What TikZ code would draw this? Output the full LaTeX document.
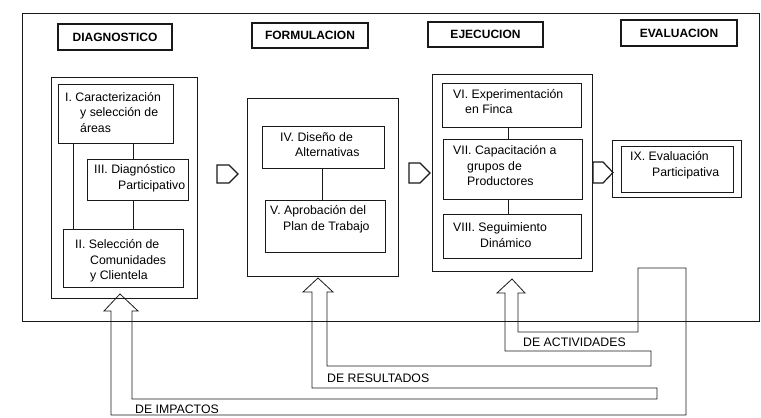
\documentclass[tikz,border=0pt]{standalone}
\usepackage{fontspec}
\setmainfont{Liberation Sans}
\begin{document}
\begin{tikzpicture}[x=1pt,y=-1pt,
  every path/.style={line join=miter},
  frame/.style={draw=black!90, line width=0.8pt},
  box/.style={draw=black!90, line width=0.8pt, inner sep=0pt, anchor=north west},
  title/.style={draw=black!90, line width=1.3pt, inner sep=0pt,
    font=\bfseries\fontsize{12}{14}\selectfont},
  txt/.style={align=left, inner sep=0pt, anchor=west,
    font=\fontsize{12.3}{15.5}\selectfont},
  lbl/.style={inner sep=0pt, anchor=west, font=\fontsize{12.3}{14}\selectfont},
  link/.style={draw=black!90, line width=0.8pt},
  blockarrow/.style={draw=black!90, line width=1.2pt, line join=miter},
  feedback/.style={draw=black!90, line width=0.8pt, line join=miter}
]
\useasboundingbox (0,0) rectangle (761,418);

% outer frame
\draw[frame] (22,13) rectangle (759,321);

% phase titles
\node[title, minimum width=114pt, minimum height=26pt] (t1) at (115,37) {DIAGNOSTICO};
\node[title, minimum width=116pt, minimum height=25pt] (t2) at (310,35.5) {FORMULACION};
\node[title, minimum width=115pt, minimum height=25pt] (t3) at (485.5,34.5) {EJECUCION};
\node[title, minimum width=116pt, minimum height=26pt] (t4) at (679,33) {EVALUACION};

% group boxes
\node[box, minimum width=146pt, minimum height=221pt] (g1) at (51,77) {};
\node[box, minimum width=151pt, minimum height=178pt] (g2) at (247,98) {};
\node[box, minimum width=160pt, minimum height=197pt] (g3) at (432,74) {};
\node[box, minimum width=129pt, minimum height=57pt] (g4) at (612,140) {};

% step boxes
\node[box, minimum width=115pt, minimum height=59pt] (b1) at (58,84) {};
\node[box, minimum width=101pt, minimum height=41pt] (b3) at (87,159) {};
\node[box, minimum width=120pt, minimum height=58pt] (b2) at (63,229) {};
\node[box, minimum width=122pt, minimum height=42pt] (b4) at (262,126) {};
\node[box, minimum width=120pt, minimum height=52pt] (b5) at (265,200) {};
\node[box, minimum width=139pt, minimum height=44pt] (b6) at (442,83) {};
\node[box, minimum width=139pt, minimum height=60pt] (b7) at (443,139) {};
\node[box, minimum width=138pt, minimum height=44pt] (b8) at (443,214) {};
\node[box, minimum width=112pt, minimum height=46pt] (b9) at (621,146) {};

% texts
\node[txt] (x1) at (65,112.5) {I. Caracterización\\\hspace*{15pt}y selección de\\\hspace*{15pt}áreas};
\node[txt] (x3) at (94,178) {III. Diagnóstico\\\hspace*{24pt}Participativo};
\node[txt] (x2) at (75,261) {II. Selección de\\\hspace*{15pt}Comunidades\\\hspace*{15pt}y Clientela};
\node[txt] (x4) at (280,144.5) {IV. Diseño de\\\hspace*{15pt}Alternativas};
\node[txt] (x5) at (270,219) {V. Aprobación del\\\hspace*{13pt}Plan de Trabajo};
\node[txt] (x6) at (453,101.5) {VI. Experimentación\\\hspace*{12pt}en Finca};
\node[txt] (x7) at (453,166) {VII. Capacitación a\\\hspace*{14pt}grupos de\\\hspace*{14pt}Productores};
\node[txt] (x8) at (453,235) {VIII. Seguimiento\\\hspace*{27pt}Dinámico};
\node[txt] (x9) at (630,165) {IX. Evaluación\\\hspace*{22pt}Participativa};

% connectors inside groups
\coordinate (cA) at (73,0);
\coordinate (cB) at (133,0);
\coordinate (cC) at (322,0);
\coordinate (cD) at (508,0);
\draw[link] (cA |- b1.south) -- (cA |- b2.north);
\draw[link] (cB |- b1.south) -- (cB |- b3.north);
\draw[link] (cB |- b3.south) -- (cB |- b2.north);
\draw[link] (cC |- b4.south) -- (cC |- b5.north);
\draw[link] (cD |- b6.south) -- (cD |- b7.north);
\draw[link] (cD |- b7.south) -- (cD |- b8.north);

% block arrows between phases
\draw[blockarrow] (217,165) -- (229,165) -- (238,174) -- (229,183) -- (217,183) -- cycle;
\draw[blockarrow] (409,163) -- (420,163) -- (430,173) -- (420,183) -- (409,183) -- cycle;
\draw[blockarrow] (593,162) -- (603,162) -- (613,172.5) -- (603,183) -- (593,183) -- cycle;

% feedback arrows (one closed outline)
\draw[feedback] (120,294) -- (138,311) -- (132,311) -- (132,399) -- (657,399)
  -- (657,388) -- (312,388) -- (312,292) -- (303,292) -- (318,278) -- (333,292)
  -- (327,292) -- (327,366) -- (651,366) -- (651,351) -- (505,351) -- (505,293)
  -- (497,293) -- (512,279) -- (525,293) -- (518,293) -- (518,332) -- (638,332)
  -- (638,268) -- (686,268) -- (686,415) -- (111,415) -- (111,311) -- (104,311) -- cycle;

\node[lbl] (l1) at (523,342) {DE ACTIVIDADES};
\node[lbl] (l2) at (327,378) {DE RESULTADOS};
\node[lbl] (l3) at (135,409) {DE IMPACTOS};
\end{tikzpicture}
\end{document}
